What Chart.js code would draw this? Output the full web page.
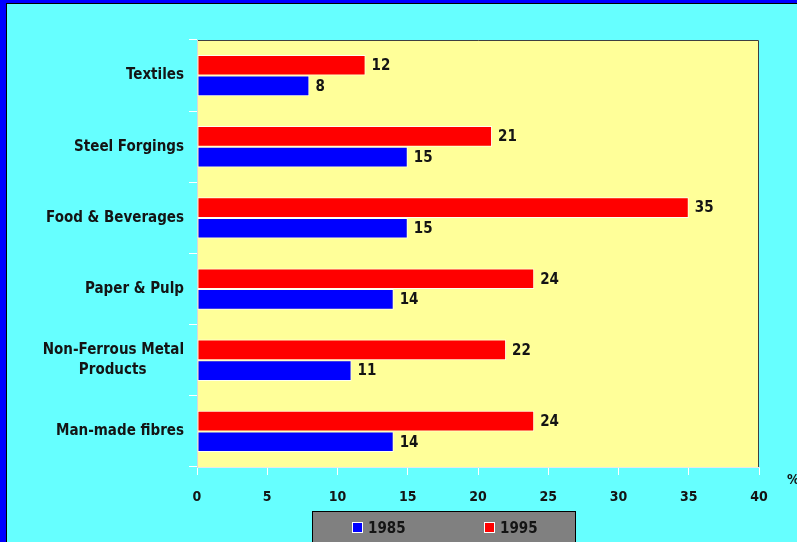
<!DOCTYPE html>
<html>
<head>
<meta charset="utf-8">
<script src="https://cdn.jsdelivr.net/npm/chart.js@4/dist/chart.umd.min.js"></script>
<style>
  html, body { margin: 0; padding: 0; background: #66FFFF; overflow: hidden; }
  #wrap { width: 797px; height: 542px; position: relative; }
</style>
</head>
<body>
<div id="wrap"><canvas id="c" width="797" height="542"></canvas></div>
<script>
const categories = ["Textiles", "Steel Forgings", "Food & Beverages", "Paper & Pulp", ["Non-Ferrous Metal", "Products        "], "Man-made fibres"];
const seriesNames = ["1985", "1995"];
const values1985 = [8, 15, 15, 14, 11, 14];
const values1995 = [12, 21, 35, 24, 22, 24];
const xTicks = [0, 5, 10, 15, 20, 25, 30, 35, 40];
const unitLabel = "%";

const FONT = "'DejaVu Sans Condensed', 'DejaVu Sans', sans-serif";
const TXT = '#141414';

const framePlugin = {
  id: 'frame',
  beforeDraw(chart) {
    const ctx = chart.ctx, a = chart.chartArea;
    ctx.save();
    ctx.fillStyle = '#66FFFF';
    ctx.fillRect(0, 0, chart.width, chart.height);
    ctx.fillStyle = '#0000FF';
    ctx.fillRect(0, 0, 6, chart.height);
    ctx.fillRect(0, 0, chart.width, 3);
    ctx.fillStyle = '#000';
    ctx.fillRect(6, 3, 1, chart.height);
    ctx.fillRect(6, 3, chart.width, 1);
    ctx.fillStyle = '#FFFF99';
    ctx.fillRect(a.left, a.top, a.right - a.left, a.bottom - a.top);
    ctx.restore();
  },
  afterDraw(chart) {
    const ctx = chart.ctx, a = chart.chartArea;
    ctx.save();
    ctx.strokeStyle = '#404040';
    ctx.lineWidth = 1;
    ctx.beginPath();
    ctx.moveTo(a.left + 1, a.top + 0.5);
    ctx.lineTo(a.right - 0.5, a.top + 0.5);
    ctx.lineTo(a.right - 0.5, a.bottom);
    ctx.stroke();
    ctx.fillStyle = TXT;
    ctx.font = "bold 14px " + FONT;
    ctx.textAlign = 'left';
    ctx.textBaseline = 'middle';
    ctx.fillText(unitLabel, 787, 480);
    // legend
    ctx.fillStyle = '#808080';
    ctx.fillRect(312, 511, 263, 35);
    ctx.strokeStyle = '#000';
    ctx.strokeRect(312.5, 511.5, 263, 35);
    const items = [
      {x: 352, color: chart.data.datasets[1].backgroundColor, label: chart.data.datasets[1].label},
      {x: 484, color: chart.data.datasets[0].backgroundColor, label: chart.data.datasets[0].label}
    ];
    items.forEach(it => {
      ctx.fillStyle = '#fff';
      ctx.fillRect(it.x, 522, 11, 11);
      ctx.fillStyle = it.color;
      ctx.fillRect(it.x + 1, 523, 9, 9);
      ctx.fillStyle = TXT;
      ctx.font = "bold 15px " + FONT;
      ctx.fillText(it.label, it.x + 16, 529);
    });
    ctx.restore();
  },
  afterDatasetsDraw(chart) {
    const ctx = chart.ctx;
    ctx.save();
    ctx.fillStyle = TXT;
    ctx.font = "bold 15px " + FONT;
    ctx.textAlign = 'left';
    ctx.textBaseline = 'middle';
    chart.data.datasets.forEach((ds, i) => {
      const meta = chart.getDatasetMeta(i);
      meta.data.forEach((el, j) => {
        ctx.fillText(String(ds.data[j]), el.x + 6, el.y + 1);
      });
    });
    ctx.restore();
  }
};

new Chart(document.getElementById('c'), {
  type: 'bar',
  data: {
    labels: categories,
    datasets: [
      { label: seriesNames[1], data: values1995, backgroundColor: '#FF0000', borderColor: 'rgba(255,255,255,0.85)', borderWidth: 1, borderSkipped: false, categoryPercentage: 0.58, barPercentage: 1.0 },
      { label: seriesNames[0], data: values1985, backgroundColor: '#0000FF', borderColor: 'rgba(255,255,255,0.85)', borderWidth: 1, borderSkipped: false, categoryPercentage: 0.58, barPercentage: 1.0 }
    ]
  },
  options: {
    indexAxis: 'y',
    responsive: false,
    animation: false,
    layout: { padding: { left: 0, right: 38, top: 40, bottom: 0 } },
    plugins: { legend: { display: false }, tooltip: { enabled: false } },
    scales: {
      x: {
        min: xTicks[0], max: xTicks[xTicks.length - 1],
        afterBuildTicks(s) { s.ticks = xTicks.map(v => ({ value: v })); },
        afterFit(s) { s.height = 75; },
        grid: { drawOnChartArea: false, drawTicks: true, tickLength: 8, color: '#ffffff' },
        border: { color: '#e8e8e8', width: 1 },
        ticks: { color: TXT, padding: 14, font: { family: FONT, size: 14, weight: 'bold' }, maxRotation: 0 }
      },
      y: {
        offset: true,
        afterFit(s) { s.width = 197; },
        grid: { drawOnChartArea: false, drawTicks: true, tickLength: 8, color: '#ffffff', offset: true },
        border: { color: '#d8d8d8', width: 1 },
        ticks: { color: TXT, padding: 5, font: { family: FONT, size: 15, weight: 'bold', lineHeight: 1.35 } }
      }
    }
  },
  plugins: [framePlugin]
});
</script>
</body>
</html>
